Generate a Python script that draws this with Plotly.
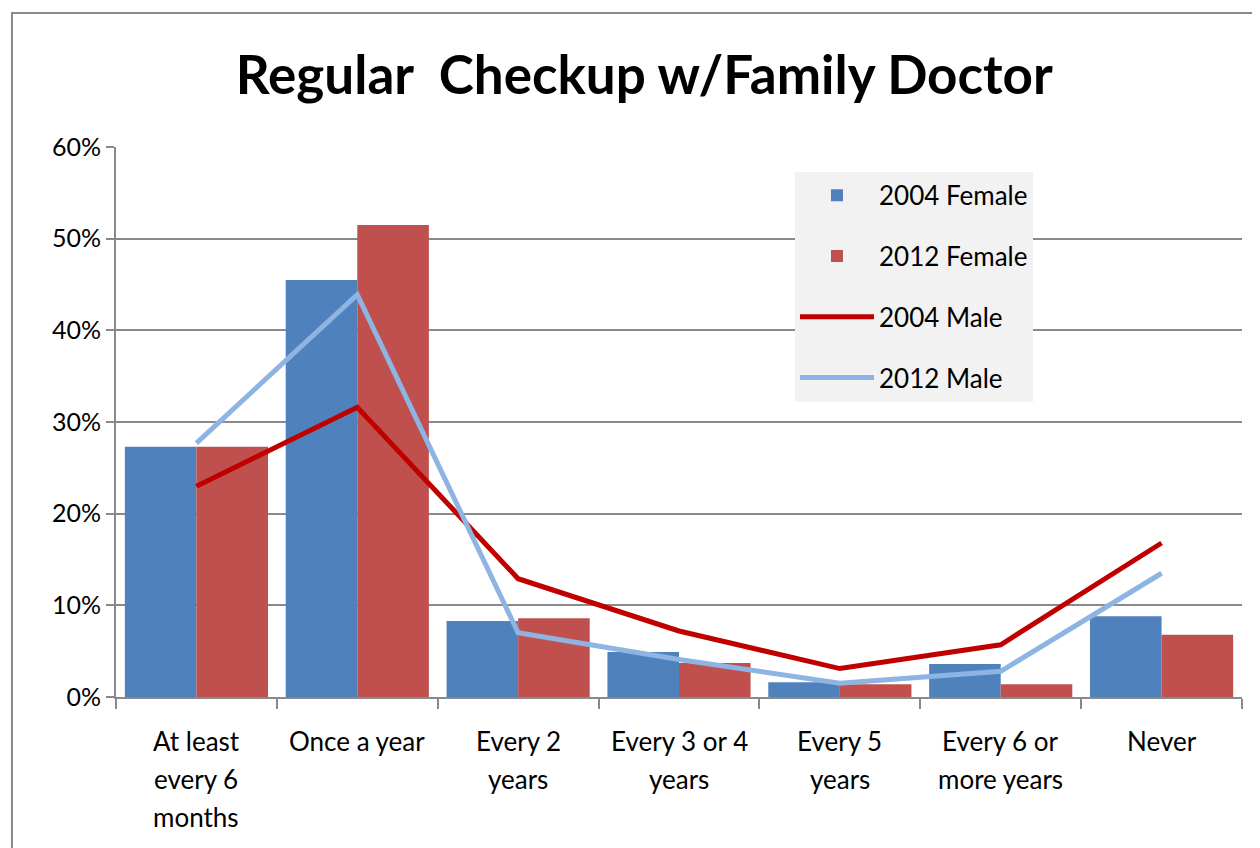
import plotly.graph_objects as go

categories = ["At least every 6 months", "Once a year", "Every 2 years",
              "Every 3 or 4 years", "Every 5 years", "Every 6 or more years", "Never"]
label_lines = [["At least", "every 6", "months"], ["Once a year"], ["Every 2", "years"],
               ["Every 3 or 4", "years"], ["Every 5", "years"], ["Every 6 or", "more years"], ["Never"]]
female_2004 = [0.273, 0.455, 0.083, 0.049, 0.016, 0.036, 0.088]
female_2012 = [0.273, 0.515, 0.086, 0.037, 0.014, 0.014, 0.068]
male_2004 = [0.230, 0.316, 0.129, 0.072, 0.031, 0.057, 0.168]
male_2012 = [0.277, 0.439, 0.070, 0.041, 0.015, 0.028, 0.135]
y_ticks = [0, 0.1, 0.2, 0.3, 0.4, 0.5, 0.6]

FONT = "Lato"
GRID = "#8a8a8a"

fig = go.Figure()
fig.add_trace(go.Bar(x=categories, y=female_2004, name="2004 Female",
                     marker=dict(color="#4F81BD", line=dict(width=0)), legendgroup="a"))
fig.add_trace(go.Bar(x=categories, y=female_2012, name="2012 Female",
                     marker=dict(color="#C0504D", line=dict(width=0)), legendgroup="b"))
fig.add_trace(go.Scatter(x=categories, y=male_2004, name="2004 Male", mode="lines",
                         line=dict(color="#C00000", width=5), legendgroup="c"))
fig.add_trace(go.Scatter(x=categories, y=male_2012, name="2012 Male", mode="lines",
                         line=dict(color="#8DB4E2", width=5), legendgroup="d"))

annotations = []
for cat, lines in zip(categories, label_lines):
    for i, t in enumerate(lines):
        annotations.append(dict(x=cat, y=0, xref="x", yref="paper", text=t, showarrow=False,
                                yanchor="middle", yshift=-44 - 38 * i,
                                font=dict(family=FONT, size=26, color="black")))

fig.update_layout(
    width=1260, height=848,
    margin=dict(l=108, r=26, t=139, b=159),
    paper_bgcolor="white", plot_bgcolor="white",
    barmode="group", bargap=0.11, bargroupgap=0,
    title=dict(text="<b>Regular  Checkup w/Family Doctor</b>", x=0.505, xanchor="center",
               y=0.921, yanchor="middle", font=dict(family=FONT, size=53, color="black")),
    legend=dict(x=0.603, y=0.955, xanchor="left", yanchor="top", bgcolor="#f2f2f2",
                font=dict(family=FONT, size=26, color="black"), traceorder="grouped",
                tracegroupgap=24, itemwidth=74),
    xaxis=dict(type="category", showticklabels=False, ticks="outside", tickson="boundaries",
               ticklen=10, tickcolor=GRID, tickwidth=2, showline=True, linecolor=GRID,
               linewidth=2, showgrid=False),
    yaxis=dict(range=[0, 0.6], tickvals=y_ticks, tickformat=".0%", ticks="outside",
               ticklen=8, tickcolor=GRID, tickwidth=2, showline=True, linecolor=GRID,
               linewidth=2, showgrid=True, gridcolor=GRID, gridwidth=2, zeroline=False,
               tickfont=dict(family=FONT, size=25, color="black")),
    annotations=annotations,
    shapes=[dict(type="rect", xref="paper", yref="paper", x0=-0.0924, x1=1.3, y0=-0.5,
                 y1=1.2436, line=dict(color="#8a8a8a", width=2), fillcolor="rgba(0,0,0,0)",
                 layer="below")],
)

fig.write_html("out.html")
